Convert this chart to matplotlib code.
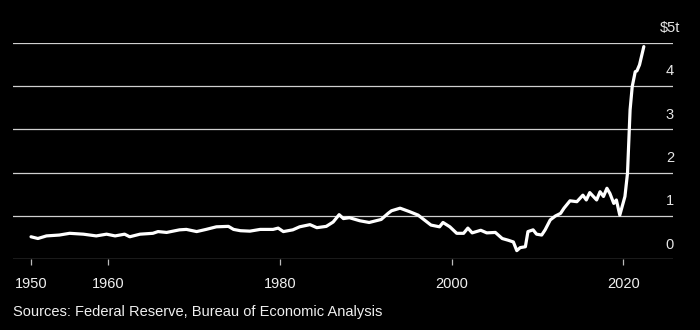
import matplotlib
matplotlib.use("Agg")
import matplotlib.pyplot as plt

# Data ($ trillions)
years = [1951.0, 1951.8, 1952.8, 1954.3, 1955.5, 1957.1, 1958.6, 1959.8, 1960.8, 1961.9,
         1962.5, 1963.7, 1965.2, 1965.8, 1966.8, 1968.3, 1969.1, 1970.3, 1971.4, 1972.6,
         1974.0, 1974.6, 1975.4, 1976.5, 1977.7, 1979.2, 1979.8, 1980.4, 1981.5, 1982.3,
         1983.5, 1984.3, 1985.4, 1986.2, 1986.9, 1987.4, 1988.1, 1989.3, 1990.4, 1991.8,
         1992.6, 1993.0, 1994.0, 1995.1, 1996.1, 1997.6, 1998.6, 1999.0, 1999.8, 2000.6,
         2001.4, 2001.9, 2002.4, 2003.4, 2004.1, 2005.1, 2005.9, 2006.6, 2007.2, 2007.6,
         2008.0, 2008.6, 2008.9, 2009.5, 2009.9, 2010.5, 2010.9, 2011.5, 2012.1, 2012.7,
         2013.1, 2013.8, 2014.6, 2015.3, 2015.7, 2016.1, 2016.9, 2017.3, 2017.7, 2018.1,
         2018.45, 2018.9, 2019.2, 2019.6, 2020.2, 2020.5, 2020.8, 2021.05, 2021.4, 2021.6,
         2021.9, 2022.4]
values = [0.52, 0.48, 0.54, 0.56, 0.60, 0.58, 0.54, 0.58, 0.54, 0.58,
          0.52, 0.58, 0.60, 0.64, 0.62, 0.68, 0.69, 0.64, 0.69, 0.75,
          0.76, 0.69, 0.66, 0.65, 0.69, 0.69, 0.72, 0.64, 0.68, 0.75,
          0.80, 0.73, 0.76, 0.86, 1.03, 0.94, 0.96, 0.89, 0.85, 0.92,
          1.06, 1.12, 1.18, 1.10, 1.02, 0.79, 0.75, 0.85, 0.75, 0.60,
          0.60, 0.72, 0.61, 0.67, 0.61, 0.62, 0.48, 0.44, 0.40, 0.20,
          0.27, 0.29, 0.64, 0.68, 0.58, 0.56, 0.68, 0.91, 1.00, 1.06,
          1.18, 1.35, 1.33, 1.48, 1.37, 1.54, 1.37, 1.56, 1.45, 1.64,
          1.52, 1.29, 1.37, 1.02, 1.45, 1.99, 3.45, 3.99, 4.33, 4.35,
          4.49, 4.91]

xtick_pos = [1951, 1960, 1980, 2000, 2020]
xtick_labels = ["1950", "1960", "1980", "2000", "2020"]
ytick_vals = [0, 1, 2, 3, 4, 5]
ytick_labels = ["0", "1", "2", "3", "4", "$5t"]
source = "Sources: Federal Reserve, Bureau of Economic Analysis"

plt.rcParams['font.family'] = ['Liberation Sans', 'DejaVu Sans']

fig = plt.figure(figsize=(7, 3.3), dpi=100, facecolor='black')
ax = fig.add_axes([13/700, (330-259.3)/330, 660/700, (259.3-42.7)/330])
ax.set_facecolor('black')
ax.set_xlim(1948.9, 2025.8)
ax.set_ylim(0, 5)

for v in ytick_vals:
    ax.axhline(v, color='#d0d0d0', lw=0.9, zorder=1)

ax.plot(years, values, color='white', lw=2.3, solid_joinstyle='round',
        solid_capstyle='round', zorder=3, clip_on=False)

label_x = (670 - 13) / 660
for v, lab in zip(ytick_vals, ytick_labels):
    ax.annotate(lab, xy=(label_x, v), xycoords=('axes fraction', 'data'),
                xytext=(0, 10.5), textcoords='offset points',
                ha='center', va='center', color='#e6e6e6', fontsize=10.5)

for s in ax.spines.values():
    s.set_visible(False)
ax.set_yticks([])
ax.set_xticks(xtick_pos)
ax.set_xticklabels(xtick_labels)
ax.tick_params(axis='x', colors='#bbbbbb', length=4.5, width=0.9, pad=8,
               labelcolor='#f0f0f0', labelsize=10.5)

fig.text(13/700, (330-312)/330, source, color='#f0f0f0', fontsize=10.5,
         ha='left', va='center')

fig.savefig('out.png', dpi=100, facecolor='black')
